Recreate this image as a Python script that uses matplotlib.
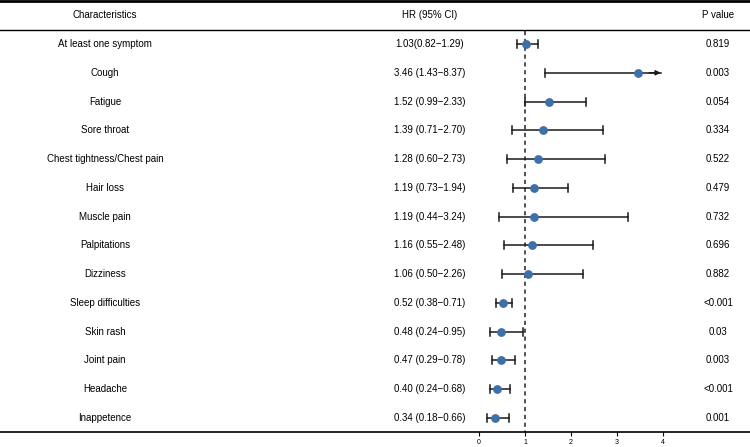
import numpy as np
import matplotlib.pyplot as plt
import matplotlib.transforms as mtransforms

plt.rcParams['font.family'] = ['Liberation Sans', 'DejaVu Sans']

labels = ['At least one symptom', 'Cough', 'Fatigue', 'Sore throat',
          'Chest tightness/Chest pain', 'Hair loss', 'Muscle pain',
          'Palpitations', 'Dizziness', 'Sleep difficulties', 'Skin rash',
          'Joint pain', 'Headache', 'Inappetence']
hr = [1.03, 3.46, 1.52, 1.39, 1.28, 1.19, 1.19, 1.16, 1.06, 0.52, 0.48, 0.47, 0.40, 0.34]
lo = [0.82, 1.43, 0.99, 0.71, 0.60, 0.73, 0.44, 0.55, 0.50, 0.38, 0.24, 0.29, 0.24, 0.18]
hi = [1.29, 8.37, 2.33, 2.70, 2.73, 1.94, 3.24, 2.48, 2.26, 0.71, 0.95, 0.78, 0.68, 0.66]
hr_text = ['1.03(0.82\u22121.29)', '3.46 (1.43\u22128.37)', '1.52 (0.99\u22122.33)',
           '1.39 (0.71\u22122.70)', '1.28 (0.60\u22122.73)', '1.19 (0.73\u22121.94)',
           '1.19 (0.44\u22123.24)', '1.16 (0.55\u22122.48)', '1.06 (0.50\u22122.26)',
           '0.52 (0.38\u22120.71)', '0.48 (0.24\u22120.95)', '0.47 (0.29\u22120.78)',
           '0.40 (0.24\u22120.68)', '0.34 (0.18\u22120.66)']
pvals = ['0.819', '0.003', '0.054', '0.334', '0.522', '0.479', '0.732', '0.696',
         '0.882', '<0.001', '0.03', '0.003', '<0.001', '0.001']
xticks = [0, 1, 2, 3, 4]

W, H = 750, 447
fig = plt.figure(figsize=(W / 100, H / 100), dpi=100)
ax = fig.add_axes([0, (H - 432) / H, 1, 432 / H])

# x scale: ~46 px per HR unit, 0 at x=479
px_unit = 46.0
x0 = 479.0
ax.set_xlim(-x0 / px_unit, (W - x0) / px_unit)
row = (418 - 44) / 13
ybot = 13 + 14 / row
ax.set_ylim(ybot, -44 / row)

y = np.arange(len(labels))
xmax = 3.95
for i in range(len(labels)):
    h = min(hi[i], xmax)
    ax.plot([lo[i], h], [y[i], y[i]], color='#1a1a1a', lw=1.1, zorder=2)
    ax.plot([lo[i], lo[i]], [y[i] - 0.14, y[i] + 0.14], color='#1a1a1a', lw=1.1, zorder=2)
    if hi[i] > xmax:
        # CI runs off the scale: arrow
        ax.annotate('', xy=(xmax, y[i]), xytext=(xmax - 0.25, y[i]),
                    arrowprops=dict(arrowstyle='-|>', color='#1a1a1a', lw=1.1,
                                    mutation_scale=7, shrinkA=0, shrinkB=0))
    else:
        ax.plot([h, h], [y[i] - 0.14, y[i] + 0.14], color='#1a1a1a', lw=1.1, zorder=2)
ax.scatter(hr, y, s=28, color='#3d6fa8', zorder=3)

ax.plot([1, 1], [-0.45, ybot], color='#333333', lw=1.2,
        linestyle=(0, (2.5, 2.2)), zorder=1)

trans = mtransforms.blended_transform_factory(ax.transAxes, ax.transData)
fs = 7
cols = [105 / W, 430 / W, 718 / W]
for i in range(len(labels)):
    ax.text(cols[0], y[i], labels[i], transform=trans, ha='center', va='center', fontsize=fs)
    ax.text(cols[1], y[i], hr_text[i], transform=trans, ha='center', va='center', fontsize=fs)
    ax.text(cols[2], y[i], pvals[i], transform=trans, ha='center', va='center', fontsize=fs)

hy = -1.0
ax.text(cols[0], hy, 'Characteristics', transform=trans, ha='center', va='center', fontsize=fs)
ax.text(cols[1], hy, 'HR (95% CI)', transform=trans, ha='center', va='center', fontsize=fs)
ax.text(cols[2], hy, 'P value', transform=trans, ha='center', va='center', fontsize=fs)
ax.plot([0, 1], [-0.49, -0.49], transform=trans, color='black', lw=1.0, clip_on=False)
ax.plot([0, 1], [-44 / row + 0.03, -44 / row + 0.03], transform=trans, color='black', lw=2.0, clip_on=False)

for s in ['top', 'left', 'right']:
    ax.spines[s].set_visible(False)
ax.spines['bottom'].set_linewidth(1.2)
ax.set_yticks([])
ax.set_xticks(xticks)
ax.set_xticklabels([str(t) for t in xticks], fontsize=5)
ax.tick_params(axis='x', length=3, width=0.8, pad=2)

fig.savefig('out.png', dpi=100)
